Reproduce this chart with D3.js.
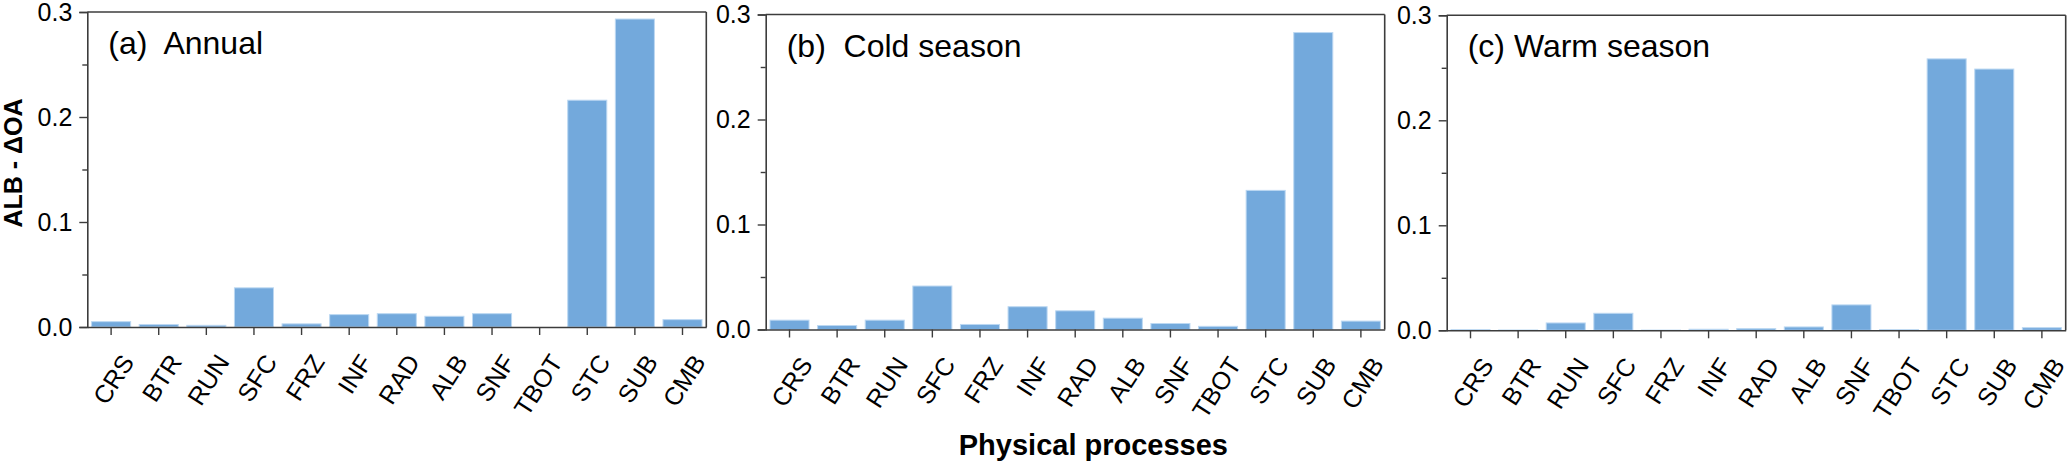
<!DOCTYPE html>
<html>
<head>
<meta charset="utf-8">
<script src="https://cdn.jsdelivr.net/npm/d3@7"></script>
<style>
  body { margin: 0; background: #fff; }
  text { font-family: "Liberation Sans", Arial, sans-serif; fill: #000; }
</style>
</head>
<body>
<div id="chart"></div>
<script>
// physical processes on the x axis
const categories = ['CRS', 'BTR', 'RUN', 'SFC', 'FRZ', 'INF', 'RAD', 'ALB', 'SNF', 'TBOT', 'STC', 'SUB', 'CMB'];

// ALB - ΔOA per process
const annual = [0.0051, 0.0024, 0.0016, 0.0373, 0.0030, 0.0118, 0.0127, 0.0102, 0.0127, 0.0, 0.2160, 0.2933, 0.0070];
const cold   = [0.0089, 0.0038, 0.0089, 0.0414, 0.0048, 0.0217, 0.0178, 0.0108, 0.0057, 0.0030, 0.1325, 0.2828, 0.0080];
const warm   = [0.0006, 0.0003, 0.0070, 0.0162, 0.0002, 0.0010, 0.0016, 0.0032, 0.0242, 0.0006, 0.2585, 0.2488, 0.0025];

const panelTitles = ['(a)  Annual', '(b)  Cold season', '(c) Warm season'];
const yTicks = [0, 0.1, 0.2, 0.3];
const yMinorTicks = [0.05, 0.15, 0.25];

const panels = [
    {values: annual, title: panelTitles[0], left: 87.3, top: 12},
    {values: cold, title: panelTitles[1], left: 765.7, top: 14.5},
    {values: warm, title: panelTitles[2], left: 1446.7, top: 15.3}
];

const width = 2067;
const height = 465;
const plotW = 619;
const plotH = 315;
const axisColor = '#3c3c3c';

const svg = d3.select('#chart')
    .append('svg')
    .attr('width', width)
    .attr('height', height);

svg.append('rect').attr('width', width).attr('height', height).attr('fill', '#fff');

panels.forEach((p) => {
    const g = svg.append('g')
        .attr('transform', `translate(${p.left}, ${p.top})`);

    const x = d3.scaleBand()
        .domain(categories)
        .range([0, plotW])
        .paddingInner(0.18)
        .paddingOuter(0.09);

    const y = d3.scaleLinear()
        .domain([0, 0.3])
        .range([plotH, 0]);

    // bars
    g.selectAll('rect.bar')
        .data(p.values)
        .enter()
        .append('rect')
        .attr('class', 'bar')
        .attr('x', (d, i) => x(categories[i]))
        .attr('width', x.bandwidth())
        .attr('y', (d) => y(d))
        .attr('height', (d) => plotH - y(d))
        .style('fill', '#73a9dc')
        .style('stroke', '#bcd8f2')
        .style('stroke-width', 1);

    // frame (top and right)
    g.append('line')
        .attr('x1', 0).attr('x2', plotW).attr('y1', 0).attr('y2', 0)
        .style('stroke', axisColor).style('stroke-width', 1.6);
    g.append('line')
        .attr('x1', plotW).attr('x2', plotW).attr('y1', 0).attr('y2', plotH)
        .style('stroke', axisColor).style('stroke-width', 1.6);

    // y axis, minor ticks first
    g.append('g')
        .call(d3.axisLeft(y).tickValues(yMinorTicks).tickSize(5).tickFormat(''))
        .call((a) => a.select('.domain').remove())
        .selectAll('line').style('stroke', axisColor).style('stroke-width', 1.4);

    const yAxis = g.append('g')
        .call(d3.axisLeft(y).tickValues(yTicks).tickSize(8).tickPadding(7).tickFormat(d3.format('.1f')));
    yAxis.select('.domain').style('stroke', axisColor).style('stroke-width', 1.6);
    yAxis.selectAll('line').style('stroke', axisColor).style('stroke-width', 1.4);
    yAxis.selectAll('text')
        .attr('font-size', '25px')
        .style('font-family', '"Liberation Sans", Arial, sans-serif')
        .style('fill', '#000');

    // x axis
    const xAxis = g.append('g')
        .attr('transform', `translate(0, ${plotH})`)
        .call(d3.axisBottom(x).tickSize(8).tickSizeOuter(0));
    xAxis.select('.domain').style('stroke', axisColor).style('stroke-width', 1.6);
    xAxis.selectAll('line').style('stroke', axisColor).style('stroke-width', 1.4);
    xAxis.selectAll('text')
        .attr('font-size', '25px')
        .style('font-family', '"Liberation Sans", Arial, sans-serif')
        .style('fill', '#000')
        .attr('text-anchor', 'end')
        .attr('dominant-baseline', 'central')
        .attr('y', 0)
        .attr('dy', 0)
        .attr('transform', 'translate(16.5, 30) rotate(-57)');

    // panel label
    g.append('text')
        .attr('x', 21)
        .attr('y', 42)
        .attr('font-size', '32px')
        .style('white-space', 'pre')
        .text(p.title);
});

// y axis title
svg.append('text')
    .attr('transform', 'translate(22, 163) rotate(-90)')
    .attr('text-anchor', 'middle')
    .attr('font-size', '25px')
    .attr('font-weight', 'bold')
    .text('ALB - ΔOA');

// x axis title
svg.append('text')
    .attr('x', 1228)
    .attr('y', 455)
    .attr('text-anchor', 'end')
    .attr('font-size', '29px')
    .attr('font-weight', 'bold')
    .text('Physical processes');
</script>
</body>
</html>
